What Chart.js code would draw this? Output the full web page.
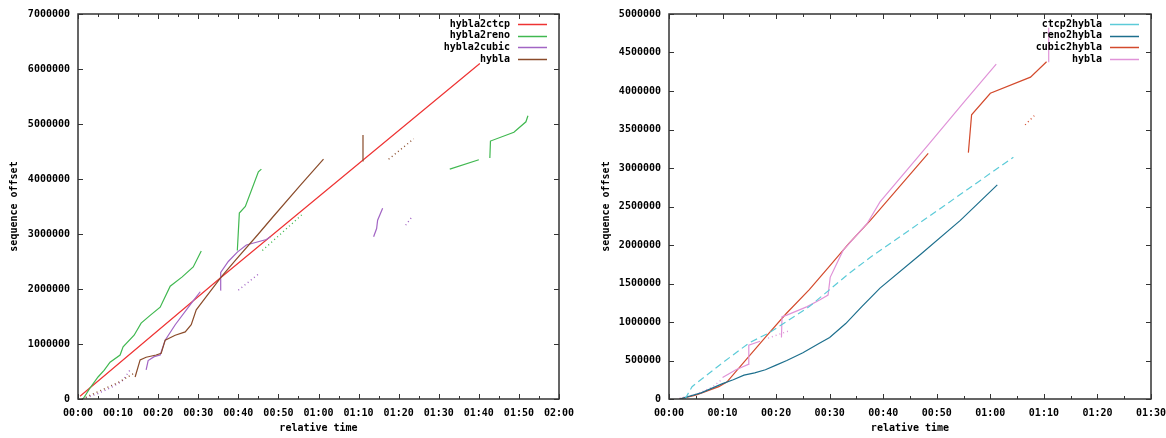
<!DOCTYPE html>
<html>
<head>
<meta charset="utf-8">
<script src="https://cdn.jsdelivr.net/npm/chart.js@4"></script>
<style>
  body { margin: 0; background: #fff; }
  .wrap { position: absolute; top: 0; width: 583px; height: 438px; }
</style>
</head>
<body>
<div class="wrap" style="left:0"><canvas id="leftChart"></canvas></div>
<div class="wrap" style="left:583px"><canvas id="rightChart"></canvas></div>
<script>
// --- datos: [segundos, offset] ---

// izquierda
const hybla2ctcp = [[0.5, 50000], [35.5, 2200000], [100.25, 6100000]];
const hybla2reno = [[1.25, 0], [3, 200000], [5, 400000], [6.5, 520000], [8, 670000], [10.5, 800000],
  [11.25, 950000], [14, 1160000], [15.75, 1380000], [18, 1520000], [20.5, 1670000], [23, 2050000],
  [26, 2220000], [28.75, 2400000], [30.75, 2690000]];
const hybla2reno2 = [[39.75, 2700000], [40.25, 3380000], [41.75, 3500000], [45, 4130000], [45.75, 4180000]];
const hybla2reno3 = [[92.75, 4180000], [100, 4350000]];
const hybla2reno4 = [[102.75, 4380000], [102.9, 4690000], [108.75, 4850000], [111.75, 5040000], [112.25, 5150000]];
const hybla2renoDots = [[46, 2700000], [56, 3360000]];

const hybla2cubic = [[17, 530000], [17.5, 700000], [19, 770000], [20.5, 800000], [21.75, 1070000],
  [24.25, 1350000], [28.25, 1740000], [30.5, 1950000]];
const hybla2cubic2 = [[35.5, 1980000], [35.6, 2300000], [37.5, 2500000], [39.75, 2670000],
  [42, 2800000], [47, 2900000], [48, 2950000]];
const hybla2cubic3 = [[73.75, 2950000], [74.5, 3100000], [74.75, 3250000], [76, 3470000]];
const hybla2cubicDots = [[2, 20000], [5, 100000], [8, 200000], [11, 320000], [13, 530000]];
const hybla2cubicDots2 = [[40, 1980000], [45, 2270000]];
const hybla2cubicDots3 = [[81.75, 3160000], [83.5, 3330000]];

const hyblaL = [[14.25, 400000], [15.5, 710000], [17, 760000], [19.5, 800000], [20.75, 830000],
  [21.75, 1070000], [24.25, 1160000], [26.75, 1220000], [28.25, 1350000], [29.5, 1620000],
  [32, 1860000], [35.75, 2220000], [39.25, 2520000], [45, 3000000], [48.5, 3300000],
  [55.5, 3890000], [61.25, 4360000]];
const hyblaL2 = [[71, 4330000], [71.1, 4800000]];
const hyblaLDots = [[1, 0], [4, 100000], [7, 200000], [10, 300000], [14, 470000]];
const hyblaLDots2 = [[77.5, 4360000], [83.75, 4730000]];

// derecha
const ctcp2hybla = [[3, 0], [4.3, 160000], [10, 470000], [15, 730000], [18.7, 860000], [26.2, 1200000],
  [33.6, 1630000], [37.6, 1840000], [47.5, 2320000], [64.3, 3140000]];
const reno2hybla = [[2, 0], [6, 80000], [10, 200000], [12, 250000], [14, 310000], [16, 340000],
  [18, 380000], [20, 440000], [22, 500000], [25, 600000], [28, 720000], [30, 800000], [33, 980000],
  [36, 1200000], [39.4, 1440000], [47, 1880000], [54.4, 2320000], [61.3, 2780000]];
const cubic2hybla = [[1.9, 0], [5, 50000], [9.3, 160000], [10.8, 220000], [14.4, 510000], [18.1, 810000],
  [21.9, 1110000], [26.2, 1420000], [29.9, 1720000], [33.6, 2020000], [37.6, 2320000], [48.4, 3190000]];
const cubic2hybla2 = [[55.9, 3200000], [56.5, 3690000], [60, 3970000], [67.5, 4180000], [70.5, 4380000]];
const cubic2hyblaDots = [[66.5, 3560000], [68.5, 3700000]];
const hyblaR = [[10, 280000], [12.5, 380000], [14.8, 450000], [14.9, 700000], [17, 750000]];
const hyblaR2 = [[21, 800000], [21.1, 1070000], [22, 1090000], [25.8, 1200000], [28.2, 1290000],
  [29.7, 1350000], [30.1, 1580000], [32.5, 1930000], [37, 2280000], [39.4, 2560000],
  [48.4, 3300000], [55, 3850000], [61.1, 4350000]];
const hyblaR3 = [[70.8, 4380000], [70.9, 4820000]];
const hyblaRDots = [[2, 10000], [5, 60000], [8, 150000], [10, 260000]];
const hyblaRDots2 = [[18.5, 790000], [22.2, 880000]];

const leftNames = ['hybla2ctcp', 'hybla2reno', 'hybla2cubic', 'hybla'];
const rightNames = ['ctcp2hybla', 'reno2hybla', 'cubic2hybla', 'hybla'];
const leftColors = ['#ee3333', '#40b850', '#a265c4', '#8a4b2a'];
const rightColors = ['#5ccbd8', '#1d6f8d', '#d34a2c', '#e093d8'];

const FONT = { family: 'DejaVu Sans Mono', size: 10, weight: 'bold' };

function pad2(n) { return String(n).padStart(2, '0'); }
function fmtTime(v) { return pad2(Math.floor(v / 60)) + ':' + pad2(v % 60); }

function seg(data, color, style) {
  const ds = {
    data: data, borderColor: color, borderWidth: 1.2, pointRadius: 0,
    tension: 0, fill: false
  };
  if (style === 'dots') { ds.borderDash = [1, 3]; ds.borderWidth = 1.4; }
  if (style === 'dash') { ds.borderDash = [7, 4]; }
  return ds;
}

// marco, ticks hacia adentro y leyenda estilo gnuplot
const gnuplotFrame = {
  id: 'gnuplotFrame',
  afterDraw(chart, args, opts) {
    const { ctx, chartArea: a, scales: { x, y } } = chart;
    ctx.save();
    ctx.strokeStyle = '#333';
    ctx.lineWidth = 1.5;
    ctx.strokeRect(a.left, a.top, a.right - a.left, a.bottom - a.top);
    ctx.lineWidth = 1;
    ctx.beginPath();
    x.ticks.forEach(t => {
      const px = Math.round(x.getPixelForValue(t.value)) + 0.5;
      ctx.moveTo(px, a.bottom); ctx.lineTo(px, a.bottom - 5);
      ctx.moveTo(px, a.top); ctx.lineTo(px, a.top + 5);
      if (t.value + 5 < x.max) {
        const pm = Math.round(x.getPixelForValue(t.value + 5)) + 0.5;
        ctx.moveTo(pm, a.bottom); ctx.lineTo(pm, a.bottom - 3);
        ctx.moveTo(pm, a.top); ctx.lineTo(pm, a.top + 3);
      }
    });
    y.ticks.forEach(t => {
      const py = Math.round(y.getPixelForValue(t.value)) + 0.5;
      ctx.moveTo(a.left, py); ctx.lineTo(a.left + 5, py);
      ctx.moveTo(a.right, py); ctx.lineTo(a.right - 5, py);
    });
    ctx.stroke();

    ctx.font = 'bold 10px "DejaVu Sans Mono"';
    ctx.fillStyle = '#000';
    ctx.textAlign = 'right';
    ctx.textBaseline = 'middle';
    opts.names.forEach((name, i) => {
      const ty = a.top + 10 + i * 11.7;
      ctx.fillText(name, a.right - 49, ty);
      ctx.strokeStyle = opts.colors[i];
      ctx.lineWidth = 1.5;
      ctx.beginPath();
      ctx.moveTo(a.right - 41, Math.round(ty) + 0.5);
      ctx.lineTo(a.right - 12, Math.round(ty) + 0.5);
      ctx.stroke();
    });
    ctx.restore();
  }
};

function makeOptions(cfg) {
  return {
    responsive: true,
    maintainAspectRatio: false,
    animation: false,
    layout: { padding: { left: 0, right: cfg.padRight, top: cfg.padTop, bottom: 0 } },
    plugins: {
      legend: { display: false },
      tooltip: { enabled: false },
      gnuplotFrame: { names: cfg.names, colors: cfg.colors }
    },
    scales: {
      x: {
        type: 'linear', min: 0, max: cfg.xMax,
        grid: { display: false, drawTicks: false },
        border: { display: false },
        ticks: {
          stepSize: 10, autoSkip: false, maxRotation: 0, padding: 8,
          color: '#000', font: FONT, callback: fmtTime
        },
        title: { display: true, text: 'relative time', color: '#000', font: FONT, padding: { top: 0, bottom: 4 } },
        afterFit: s => { s.height = 39; s.paddingRight = cfg.padRight; }
      },
      y: {
        type: 'linear', min: 0, max: cfg.yMax,
        grid: { display: false, drawTicks: false },
        border: { display: false },
        ticks: {
          stepSize: cfg.yStep, padding: 8, color: '#000', font: FONT,
          callback: v => String(v)
        },
        title: { display: true, text: 'sequence offset', color: '#000', font: FONT, padding: { top: cfg.yTitlePad, bottom: 0 } },
        afterFit: s => { s.width = cfg.yWidth; }
      }
    }
  };
}

new Chart(document.getElementById('leftChart'), {
  type: 'line',
  data: {
    datasets: [
      seg(hyblaLDots, leftColors[3], 'dots'),
      seg(hybla2cubicDots, leftColors[2], 'dots'),
      seg(hyblaL, leftColors[3]),
      seg(hyblaL2, leftColors[3]),
      seg(hyblaLDots2, leftColors[3], 'dots'),
      seg(hybla2cubic, leftColors[2]),
      seg(hybla2cubic2, leftColors[2]),
      seg(hybla2cubic3, leftColors[2]),
      seg(hybla2cubicDots2, leftColors[2], 'dots'),
      seg(hybla2cubicDots3, leftColors[2], 'dots'),
      seg(hybla2reno, leftColors[1]),
      seg(hybla2reno2, leftColors[1]),
      seg(hybla2reno3, leftColors[1]),
      seg(hybla2reno4, leftColors[1]),
      seg(hybla2renoDots, leftColors[1], 'dots'),
      seg(hybla2ctcp, leftColors[0])
    ]
  },
  options: makeOptions({
    xMax: 120, yMax: 7000000, yStep: 1000000, yWidth: 78, yTitlePad: 8,
    padRight: 24, padTop: 13, names: leftNames, colors: leftColors
  }),
  plugins: [gnuplotFrame]
});

new Chart(document.getElementById('rightChart'), {
  type: 'line',
  data: {
    datasets: [
      seg(ctcp2hybla, rightColors[0], 'dash'),
      seg(reno2hybla, rightColors[1]),
      seg(hyblaRDots, rightColors[3], 'dots'),
      seg(hyblaR, rightColors[3]),
      seg(hyblaRDots2, rightColors[3], 'dots'),
      seg(hyblaR2, rightColors[3]),
      seg(hyblaR3, rightColors[3]),
      seg(cubic2hybla, rightColors[2]),
      seg(cubic2hybla2, rightColors[2]),
      seg(cubic2hyblaDots, rightColors[2], 'dots')
    ]
  },
  options: makeOptions({
    xMax: 90, yMax: 5000000, yStep: 500000, yWidth: 86, yTitlePad: 17,
    padRight: 15, padTop: 14, names: rightNames, colors: rightColors
  }),
  plugins: [gnuplotFrame]
});
</script>
</body>
</html>
